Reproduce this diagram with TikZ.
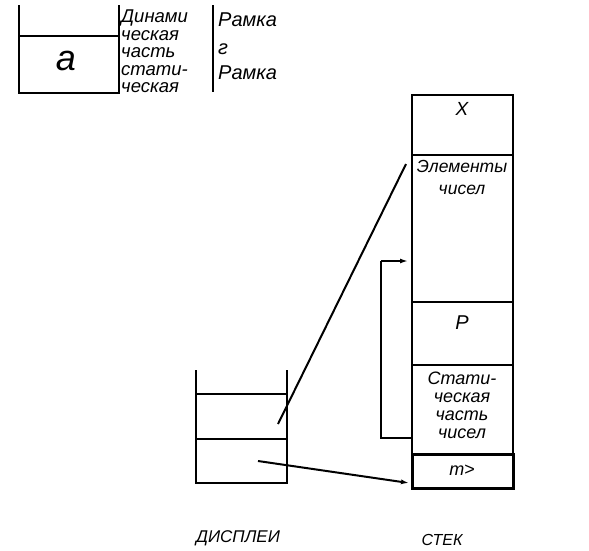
\documentclass[tikz,border=0pt]{standalone}
\usepackage{fontspec}
\setsansfont{Liberation Sans}
\usetikzlibrary{arrows.meta}
\begin{document}
\begin{tikzpicture}[x=1pt,y=-1pt,
  txt/.style={font=\sffamily\itshape\fontsize{17}{18}\selectfont,inner sep=0pt,align=center},
  txtl/.style={font=\sffamily\itshape\fontsize{18.5}{17.5}\selectfont,inner sep=0pt,align=left,anchor=north west},
  ln/.style={line width=2pt},
  arr/.style={line width=2pt,-{Latex[length=8pt,width=5pt]}}]
\useasboundingbox (0,0) rectangle (589,550);
% top-left fragment
\draw[ln] (19,5) -- (19,93) -- (119,93) -- (119,5);
\draw[ln] (19,36) -- (119,36);
\node[txt,font=\sffamily\itshape\fontsize{36}{36}\selectfont] (a) at (66,61) {а};
\node[txtl] (dyn) at (121,10) {Динами\\ческая\\часть\\стати-\\ческая};
\draw[ln] (213,5) -- (213,92);
\node[txtl,font=\sffamily\itshape\fontsize{20}{20}\selectfont] (r1) at (218,13) {Рамка};
\node[txtl,font=\sffamily\itshape\fontsize{20}{20}\selectfont] (g) at (218,44) {г};
\node[txtl,font=\sffamily\itshape\fontsize{20}{20}\selectfont] (r2) at (218,66) {Рамка};
% stack
\draw[ln] (412,95) rectangle (513,454);
\draw[ln] (412,155) -- (513,155);
\draw[ln] (412,302) -- (513,302);
\draw[ln] (412,365) -- (513,365);
\draw[line width=3pt] (412,454) rectangle (513,488);
\node[txt,font=\sffamily\itshape\fontsize{19}{19}\selectfont] (x) at (462,109) {X};
\node[txt,font=\sffamily\itshape\fontsize{17.5}{22}\selectfont] (el) at (462,177) {Элементы\\чисел};
\node[txt,font=\sffamily\itshape\fontsize{20}{20}\selectfont] (p) at (462,323) {P};
\node[txt,font=\sffamily\itshape\fontsize{18}{18}\selectfont] (st) at (462,405) {Стати-\\ческая\\часть\\чисел};
\node[txt,font=\sffamily\itshape\fontsize{18}{18}\selectfont] (m) at (462,470) {m>};
% bracket
\coordinate (b1) at (381,438);
\coordinate (b0) at (412,438);
\coordinate (b2) at (381,261);
\coordinate (b3) at (408,261);
\draw[ln] (b0) -- (b1) -- (b2);
\draw[arr] (b2) -- (b3);
% display
\draw[ln] (196,370) -- (196,483) -- (287,483) -- (287,370);
\draw[ln] (196,394) -- (287,394);
\draw[ln] (196,439) -- (287,439);
% connectors
\coordinate (d1) at (278,424);
\coordinate (e1) at (406,164);
\draw[ln] (d1) -- (e1);
\coordinate (d2) at (258,461);
\coordinate (e2) at (409,483);
\draw[arr] (d2) -- (e2);
% labels
\node[txt,font=\sffamily\itshape\fontsize{17}{17}\selectfont] (disp) at (238,538) {ДИСПЛЕИ};
\node[txt,font=\sffamily\itshape\fontsize{16}{16}\selectfont] (stek) at (442,540) {СТЕК};
\end{tikzpicture}
\end{document}
